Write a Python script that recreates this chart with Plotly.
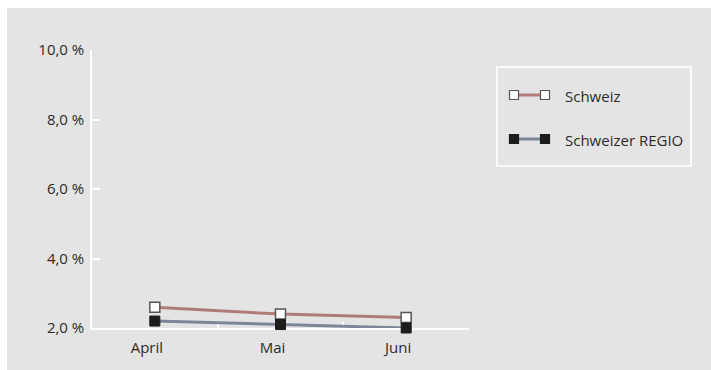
import plotly.graph_objects as go

# Monthly rates (%)
months = ["April", "Mai", "Juni"]
schweiz = [2.6, 2.4, 2.3]
schweizer_regio = [2.2, 2.1, 2.0]
series_names = ["Schweiz", "Schweizer REGIO"]
y_ticks = [2, 4, 6, 8, 10]
y_tick_labels = [f"{v:.1f}".replace(".", ",") + " %" for v in y_ticks]

W, H = 711, 370
ML, MR, MT, MB = 92, 242, 50, 42
PW, PH = W - ML - MR, H - MT - MB

BG = "#e4e4e4"
TXT = "#2b2b2b"
RED = "#b07c7a"
BLUE = "#7c8898"
FONT = "Open Sans"


def px(x):
    return (x - ML) / PW


def py(y):
    return (H - MB - y) / PH


fig = go.Figure()
fig.add_trace(go.Scatter(
    x=months, y=schweiz, name=series_names[0], mode="lines+markers",
    line=dict(color=RED, width=3),
    marker=dict(symbol="square", size=10, color="white",
                line=dict(color="#555555", width=1.5)),
    cliponaxis=False, showlegend=False,
))
fig.add_trace(go.Scatter(
    x=months, y=schweizer_regio, name=series_names[1], mode="lines+markers",
    line=dict(color=BLUE, width=3),
    marker=dict(symbol="square", size=10, color="#1c1c1c",
                line=dict(color="#1c1c1c", width=1)),
    cliponaxis=False, showlegend=False,
))

shapes = [
    # white page edge on the left and top of the grey panel
    dict(type="rect", xref="paper", yref="paper", layer="below",
         x0=px(-5), x1=px(7), y0=py(H + 5), y1=py(-5),
         fillcolor="white", line=dict(width=0)),
    dict(type="rect", xref="paper", yref="paper", layer="below",
         x0=px(-5), x1=px(W + 5), y0=py(8), y1=py(-5),
         fillcolor="white", line=dict(width=0)),
    # legend frame
    dict(type="rect", xref="paper", yref="paper",
         x0=px(497), x1=px(691), y0=py(166), y1=py(67),
         fillcolor="rgba(0,0,0,0)", line=dict(color="white", width=1.5)),
]

legend_rows = [
    (95, RED, "white", "#555555", series_names[0]),
    (139, BLUE, "#1c1c1c", "#1c1c1c", series_names[1]),
]
annotations = []
for yc, lc, fc, oc, label in legend_rows:
    shapes.append(dict(type="line", xref="paper", yref="paper",
                       x0=px(514), x1=px(545), y0=py(yc), y1=py(yc),
                       line=dict(color=lc, width=3)))
    for xc in (514, 545):
        shapes.append(dict(type="rect", xref="paper", yref="paper",
                           x0=px(xc - 4.5), x1=px(xc + 4.5),
                           y0=py(yc + 4.5), y1=py(yc - 4.5),
                           fillcolor=fc, line=dict(color=oc, width=1.2)))
    annotations.append(dict(xref="paper", yref="paper", x=px(563), y=py(yc + 1),
                            text=label, showarrow=False, xanchor="left",
                            yanchor="middle",
                            font=dict(family=FONT, size=15, color=TXT)))

fig.update_layout(
    width=W, height=H,
    margin=dict(l=ML, r=MR, t=MT, b=MB, pad=0),
    paper_bgcolor=BG, plot_bgcolor=BG,
    font=dict(family=FONT, size=15, color=TXT),
    shapes=shapes, annotations=annotations,
    showlegend=False,
)
fig.update_xaxes(
    type="category", range=[-0.5, 2.5], tickson="boundaries",
    ticks="inside", ticklen=6, tickcolor="white", tickwidth=1.5,
    showline=True, linecolor="white", linewidth=1.5,
    showgrid=False, zeroline=False, ticklabelshift=-8,
    ticklabelstandoff=5, layer="below traces",
)
fig.update_yaxes(
    range=[2, 10], tickvals=y_ticks, ticktext=y_tick_labels,
    ticks="inside", ticklen=8, tickcolor="white", tickwidth=1.5,
    showline=True, linecolor="white", linewidth=1.5,
    showgrid=False, zeroline=False, ticklabelstandoff=3,
    layer="below traces",
)

fig.write_html("out.html", config={"displayModeBar": False})
